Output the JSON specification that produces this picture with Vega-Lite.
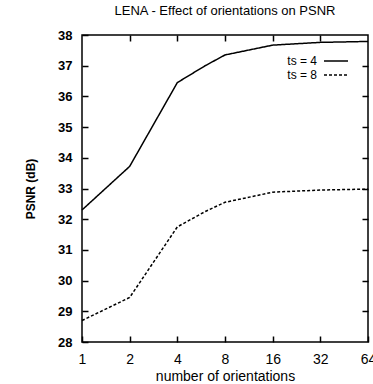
{
  "$schema": "https://vega.github.io/schema/vega-lite/v6.json",
  "width": 286,
  "height": 307,
  "autosize": {"type": "none"},
  "padding": {"left": 82, "top": 35, "right": 5, "bottom": 42},
  "background": "white",
  "title": {"text": "LENA - Effect of orientations on PSNR", "fontSize": 13, "font": "Liberation Sans Narrow, Arial Narrow, Liberation Sans, sans-serif", "fontWeight": "normal", "color": "black", "offset": 11, "anchor": "middle"},
  "config": {
    "view": {"stroke": "black", "strokeWidth": 1.5},
    "axis": {"grid": false, "domain": false, "tickColor": "black", "tickWidth": 1.5, "tickSize": -6, "labelColor": "black", "labelFont": "Liberation Sans Narrow, Arial Narrow, Liberation Sans, sans-serif", "titleColor": "black"}
  },
  "data": {"values": [
    {"orientations": 1, "psnr": 32.3, "series": "ts = 4"},
    {"orientations": 2, "psnr": 33.72, "series": "ts = 4"},
    {"orientations": 4, "psnr": 36.45, "series": "ts = 4"},
    {"orientations": 6, "psnr": 37.0, "series": "ts = 4"},
    {"orientations": 8, "psnr": 37.35, "series": "ts = 4"},
    {"orientations": 16, "psnr": 37.67, "series": "ts = 4"},
    {"orientations": 32, "psnr": 37.76, "series": "ts = 4"},
    {"orientations": 64, "psnr": 37.79, "series": "ts = 4"},
    {"orientations": 1, "psnr": 28.7, "series": "ts = 8"},
    {"orientations": 2, "psnr": 29.45, "series": "ts = 8"},
    {"orientations": 4, "psnr": 31.75, "series": "ts = 8"},
    {"orientations": 6, "psnr": 32.25, "series": "ts = 8"},
    {"orientations": 8, "psnr": 32.55, "series": "ts = 8"},
    {"orientations": 16, "psnr": 32.88, "series": "ts = 8"},
    {"orientations": 32, "psnr": 32.95, "series": "ts = 8"},
    {"orientations": 64, "psnr": 32.98, "series": "ts = 8"}
  ]},
  "layer": [
    {
      "mark": {"type": "line", "color": "black", "strokeWidth": 1.5},
      "encoding": {
        "x": {"field": "orientations", "type": "quantitative",
          "scale": {"type": "log", "base": 2, "domain": [1, 64], "nice": false},
          "axis": {"values": [1, 2, 4, 8, 16, 32, 64], "format": "d", "labelFontSize": 14, "labelPadding": 16, "labelFlush": false, "labelOverlap": false,
            "title": "number of orientations", "titleFont": "Liberation Sans Narrow, Arial Narrow, Liberation Sans, sans-serif", "titleFontSize": 14, "titleFontWeight": "normal", "titlePadding": 3}},
        "y": {"field": "psnr", "type": "quantitative",
          "scale": {"domain": [28, 38], "nice": false, "zero": false},
          "axis": {"values": [28, 29, 30, 31, 32, 33, 34, 35, 36, 37, 38], "labelFontSize": 13, "labelFontWeight": "bold", "labelPadding": 16, "labelFlush": false, "labelOverlap": false,
            "title": "PSNR (dB)", "titleFont": "Liberation Sans", "titleFontSize": 12, "titleFontWeight": "bold", "titlePadding": 20}},
        "strokeDash": {"field": "series", "type": "nominal",
          "scale": {"domain": ["ts = 4", "ts = 8"], "range": [[1, 0], [3, 2]]},
          "legend": {"orient": "none", "legendX": 248, "legendY": 20, "title": null, "padding": 0,
            "symbolType": "M-2.4,0H2.4", "symbolSize": 100, "symbolStrokeWidth": 1.5, "symbolStrokeColor": "black",
            "rowPadding": 2,
            "labelFont": "Liberation Sans Narrow, Arial Narrow, Liberation Sans, sans-serif", "labelFontSize": 12, "labelColor": "black", "labelAlign": "right", "labelOffset": -25}}
      }
    },
    {
      "mark": {"type": "line", "opacity": 0},
      "encoding": {
        "x": {"field": "orientations", "type": "quantitative",
          "scale": {"type": "log", "base": 2, "domain": [1, 64], "nice": false},
          "axis": {"orient": "top", "values": [2, 4, 8, 16, 32], "labels": false, "title": null}},
        "y": {"field": "psnr", "type": "quantitative",
          "scale": {"domain": [28, 38], "nice": false, "zero": false},
          "axis": {"orient": "right", "values": [29, 30, 31, 32, 33, 34, 35, 36, 37], "labels": false, "title": null}},
        "detail": {"field": "series"}
      }
    }
  ],
  "resolve": {"axis": {"x": "independent", "y": "independent"}}
}
